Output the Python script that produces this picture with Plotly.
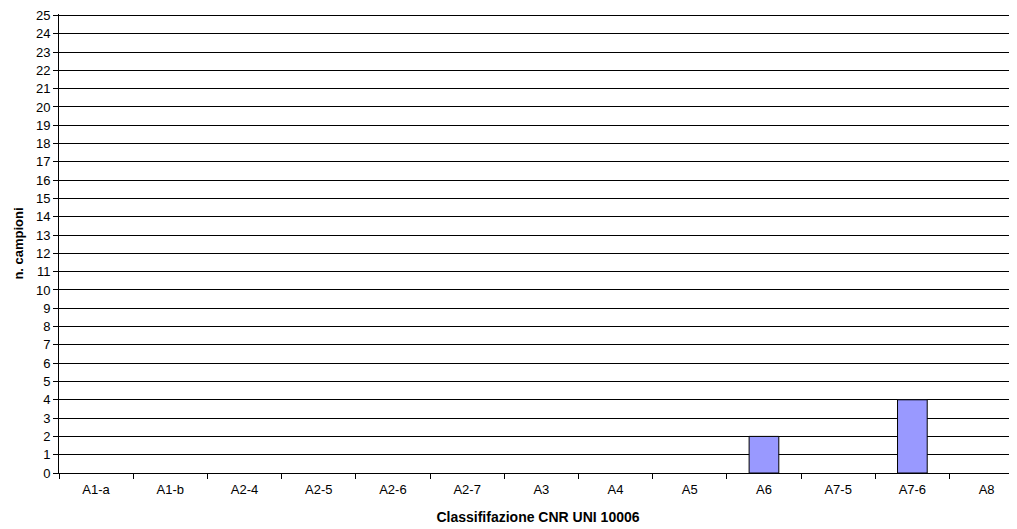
import plotly.graph_objects as go

categories = ["A1-a", "A1-b", "A2-4", "A2-5", "A2-6", "A2-7", "A3", "A4", "A5", "A6", "A7-5", "A7-6", "A8"]
values = [0, 0, 0, 0, 0, 0, 0, 0, 0, 2, 0, 4, 0]
y_ticks = list(range(0, 26))

line_widths = [1 if v > 0 else 0 for v in values]

fig = go.Figure()
fig.add_trace(go.Bar(
    x=categories, y=values, width=0.4,
    marker=dict(color="#9999FF", line=dict(color="black", width=line_widths)),
))

font_family = "Liberation Sans, Arial, sans-serif"
fig.update_layout(
    width=1017, height=529,
    margin=dict(l=51, r=8, t=6, b=64),
    paper_bgcolor="white", plot_bgcolor="white",
    showlegend=False,
    font=dict(family=font_family, size=13, color="black"),
    xaxis=dict(
        type="category", range=[-0.5, 12.41],
        showline=True, linecolor="black", linewidth=1,
        ticks="outside", tickson="boundaries", ticklen=5, tickcolor="black",
        ticklabelstandoff=4, automargin=False,
        showgrid=False, zeroline=False,
        title=dict(text="<b>Classififazione CNR UNI 10006</b>",
                   font=dict(size=14), standoff=16),
        tickfont=dict(size=13),
    ),
    yaxis=dict(
        range=[0, 25.08], tickvals=y_ticks,
        showline=True, linecolor="black", linewidth=1,
        ticks="outside", ticklen=5, tickcolor="black",
        ticklabeloverflow="allow", automargin=False,
        showgrid=True, gridcolor="black", gridwidth=1,
        zeroline=False,
        title=dict(text="<b>n. campioni</b>", font=dict(size=13), standoff=9),
        tickfont=dict(size=13),
    ),
)

fig.write_html("out.html")
